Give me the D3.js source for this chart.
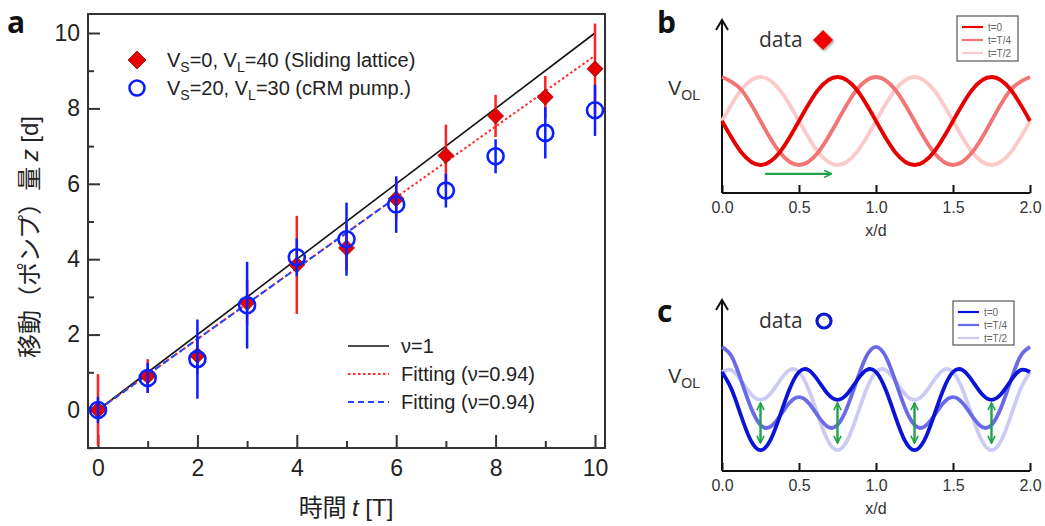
<!DOCTYPE html>
<html>
<head>
<meta charset="utf-8">
<script src="https://cdn.jsdelivr.net/npm/d3@7"></script>
<style>
  body { margin: 0; background: #fff; }
  svg { display: block; font-family: "Liberation Sans", Arial, "Noto Sans CJK JP", sans-serif; }
</style>
</head>
<body>
<svg id="chart" width="1045" height="526"></svg>
<script>
// ---- panel a data ----
const times = [0, 1, 2, 3, 4, 5, 6, 7, 8, 9, 10];
const slideZ   = [0, 0.9, 1.45, 2.85, 3.85, 4.3, 5.6, 6.75, 7.8, 8.3, 9.05];
const slideErr = [0.95, 0.45, 0.5, 0.6, 1.3, 0.6, 0.55, 0.82, 0.56, 0.56, 1.2];
const crmZ     = [0, 0.85, 1.35, 2.78, 4.05, 4.53, 5.45, 5.82, 6.73, 7.35, 7.95];
const crmErr   = [0.35, 0.4, 1.05, 1.15, 0.5, 0.97, 0.75, 0.45, 0.45, 0.68, 0.68];
const xTicksA = [0, 2, 4, 6, 8, 10];
const yTicksA = [0, 2, 4, 6, 8, 10];
// reference lines: [x0, z0], [x1, z1]
const lineNu1   = [[0, 0], [10, 10]];
const lineFitR  = [[0, 0], [10, 9.4]];
const lineFitB  = [[0, 0], [6, 5.64]];

// ---- panel b / c data (potential) ----
const xb = [0, 0.125, 0.25, 0.375, 0.5, 0.625, 0.75, 0.875, 1, 1.125, 1.25, 1.375, 1.5, 1.625, 1.75, 1.875, 2];
const bT0 = [0, -0.71, -1, -0.71, 0, 0.71, 1, 0.71, 0, -0.71, -1, -0.71, 0, 0.71, 1, 0.71, 0];
const bT4 = [1, 0.71, 0, -0.71, -1, -0.71, 0, 0.71, 1, 0.71, 0, -0.71, -1, -0.71, 0, 0.71, 1];
const bT2 = [0, 0.71, 1, 0.71, 0, -0.71, -1, -0.71, 0, 0.71, 1, 0.71, 0, -0.71, -1, -0.71, 0];
const xc = [0, 0.0625, 0.125, 0.1875, 0.25, 0.3125, 0.375, 0.4375, 0.5, 0.5625, 0.625, 0.6875, 0.75, 0.8125, 0.875, 0.9375,
            1, 1.0625, 1.125, 1.1875, 1.25, 1.3125, 1.375, 1.4375, 1.5, 1.5625, 1.625, 1.6875, 1.75, 1.8125, 1.875, 1.9375, 2];
const cT0 = [1.00, 0.34, -0.67, -1.59, -1.95, -1.59, -0.67, 0.34, 1.00, 1.07, 0.67, 0.17, -0.05, 0.17, 0.67, 1.07,
             1.00, 0.34, -0.67, -1.59, -1.95, -1.59, -0.67, 0.34, 1.00, 1.07, 0.67, 0.17, -0.05, 0.17, 0.67, 1.07, 1.00];
const cT4 = [1.95, 1.59, 0.67, -0.34, -1.00, -1.07, -0.67, -0.17, 0.05, -0.17, -0.67, -1.07, -1.00, -0.34, 0.67, 1.59,
             1.95, 1.59, 0.67, -0.34, -1.00, -1.07, -0.67, -0.17, 0.05, -0.17, -0.67, -1.07, -1.00, -0.34, 0.67, 1.59, 1.95];
const cT2 = [1.00, 1.07, 0.67, 0.17, -0.05, 0.17, 0.67, 1.07, 1.00, 0.34, -0.67, -1.59, -1.95, -1.59, -0.67, 0.34,
             1.00, 1.07, 0.67, 0.17, -0.05, 0.17, 0.67, 1.07, 1.00, 0.34, -0.67, -1.59, -1.95, -1.59, -0.67, 0.34, 1.00];
const phaseLabels = ["t=0", "t=T/4", "t=T/2"];
const xTicksBC = [0, 0.5, 1.0, 1.5, 2.0];
const pumpArrowX = [0.25, 0.75, 1.25, 1.75];  // green double arrows in c
const pumpArrowV = [-0.17, -1.68];
const slideArrow = {x0: 0.28, x1: 0.71, v: -1.2};

const svg = d3.select("#chart");
svg.append("rect").attr("width", 1045).attr("height", 526).attr("fill", "#fff");

// ================= panel a =================
const x = d3.scaleLinear().domain([0, 10]).range([98, 595]);
const y = d3.scaleLinear().domain([0, 10]).range([410, 33]);
const [fl, fr, ft, fb] = [88, 605, 14, 448];
const ink = "#333";

const gA = svg.append("g");

// major + minor ticks, pointing inward
gA.append("g").attr("transform", `translate(0,${fb})`)
  .call(d3.axisBottom(x).tickValues(xTicksA).tickSizeInner(-13).tickSizeOuter(0).tickPadding(12));
gA.append("g").attr("transform", `translate(0,${fb})`)
  .call(d3.axisBottom(x).tickValues([1, 3, 5, 7, 9]).tickFormat("").tickSizeInner(-7).tickSizeOuter(0));
gA.append("g").attr("transform", `translate(${fl},0)`)
  .call(d3.axisLeft(y).tickValues(yTicksA).tickSizeInner(-12).tickSizeOuter(0).tickPadding(8));
gA.append("g").attr("transform", `translate(${fl},0)`)
  .call(d3.axisLeft(y).tickValues([-1, 1, 3, 5, 7, 9]).tickFormat("").tickSizeInner(-6).tickSizeOuter(0));
gA.selectAll(".domain").remove();
gA.selectAll(".tick line").attr("stroke", ink).attr("stroke-width", 2);
gA.selectAll(".tick text").attr("fill", "#222").style("font-size", "23px")
  .style("font-family", "'Liberation Sans', Arial, sans-serif");

gA.append("rect").attr("x", fl).attr("y", ft).attr("width", fr - fl).attr("height", fb - ft)
  .attr("fill", "none").attr("stroke", ink).attr("stroke-width", 2);

const lineGen = d3.line().x(d => x(d[0])).y(d => y(d[1]));
gA.append("path").attr("d", lineGen(lineNu1)).attr("stroke", "#111").attr("stroke-width", 1.6).attr("fill", "none");
gA.append("path").attr("d", lineGen(lineFitR)).attr("stroke", "#ff2a2a").attr("stroke-width", 2)
  .attr("stroke-dasharray", "2.5,2.5").attr("fill", "none");
gA.append("path").attr("d", lineGen(lineFitB)).attr("stroke", "#2244ff").attr("stroke-width", 2)
  .attr("stroke-dasharray", "6,4").attr("fill", "none");

const red = "#e60000", redBar = "#ff2020", blue = "#0a1eff";
const diamond = (cx, cy, r) => `M${cx},${cy - r}L${cx + r},${cy}L${cx},${cy + r}L${cx - r},${cy}Z`;

// sliding lattice
gA.append("g").selectAll("line").data(times).join("line")
  .attr("x1", d => x(d)).attr("x2", d => x(d))
  .attr("y1", (d, i) => y(slideZ[i] - slideErr[i])).attr("y2", (d, i) => y(slideZ[i] + slideErr[i]))
  .attr("stroke", redBar).attr("stroke-width", 2.5);
gA.append("g").selectAll("path").data(times).join("path")
  .attr("d", (d, i) => diamond(x(d), y(slideZ[i]), 8))
  .attr("fill", red).attr("stroke", "#8a1010").attr("stroke-width", 0.8);

// cRM pump
gA.append("g").selectAll("line").data(times).join("line")
  .attr("x1", d => x(d)).attr("x2", d => x(d))
  .attr("y1", (d, i) => y(crmZ[i] - crmErr[i])).attr("y2", (d, i) => y(crmZ[i] + crmErr[i]))
  .attr("stroke", blue).attr("stroke-width", 2.5);
gA.append("g").selectAll("circle").data(times).join("circle")
  .attr("cx", d => x(d)).attr("cy", (d, i) => y(crmZ[i])).attr("r", 8)
  .attr("fill", "none").attr("stroke", blue).attr("stroke-width", 2.6);

// legend top
const legA = gA.append("g").style("font-size", "20px").attr("fill", "#222");
legA.append("path").attr("d", diamond(137, 60, 9)).attr("fill", red).attr("stroke", "#8a1010").attr("stroke-width", 0.8);
legA.append("circle").attr("cx", 137).attr("cy", 88).attr("r", 7.5).attr("fill", "none").attr("stroke", blue).attr("stroke-width", 2.6);
function vsvl(yb, vs, vl, tail) {
  const tx = legA.append("text").attr("x", 167).attr("y", yb);
  tx.append("tspan").text("V");
  tx.append("tspan").text("S").style("font-size", "14px").attr("dy", 5);
  tx.append("tspan").text("=" + vs + ", V").attr("dy", -5);
  tx.append("tspan").text("L").style("font-size", "14px").attr("dy", 5);
  tx.append("tspan").text("=" + vl + " " + tail).attr("dy", -5);
}
vsvl(67, 0, 40, "(Sliding lattice)");
vsvl(95, 20, 30, "(cRM pump.)");

// legend bottom
const legB = gA.append("g").style("font-size", "20px").attr("fill", "#222");
const legRows = [
  {y: 346, label: "\u03bd=1", stroke: "#111", dash: null, w: 1.6},
  {y: 374, label: "Fitting (\u03bd=0.94)", stroke: "#ff2a2a", dash: "2.5,2.5", w: 2},
  {y: 402, label: "Fitting (\u03bd=0.94)", stroke: "#2244ff", dash: "6,4", w: 2}
];
legRows.forEach(r => {
  legB.append("line").attr("x1", 348).attr("x2", 389).attr("y1", r.y).attr("y2", r.y)
    .attr("stroke", r.stroke).attr("stroke-width", r.w).attr("stroke-dasharray", r.dash);
  legB.append("text").attr("x", 401).attr("y", r.y + 7).text(r.label);
});

// axis titles
const xt = gA.append("text").attr("x", 346).attr("y", 516).attr("text-anchor", "middle")
  .style("font-size", "24px").attr("fill", "#222");
xt.append("tspan").text("時間 ").style("font-family", "'Noto Sans CJK JP'");
xt.append("tspan").text("t").style("font-style", "italic");
xt.append("tspan").text(" [T]");
const yt = gA.append("text").attr("transform", "translate(38,237) rotate(-90)").attr("text-anchor", "middle")
  .style("font-size", "24px").attr("fill", "#222");
yt.append("tspan").text("移動（ポンプ）量 ").style("font-family", "'Noto Sans CJK JP'");
yt.append("tspan").text("z").style("font-style", "italic");
yt.append("tspan").text(" [d]");

svg.append("text").attr("x", 7).attr("y", 33).text("a")
  .style("font-size", "30px").style("font-weight", "bold").style("font-family", "'Open Sans', sans-serif").attr("fill", "#111");

// ================= panels b, c =================
const xs = d3.scaleLinear().domain([0, 2]).range([722, 1030]);
const green = "#1ea34b";

svg.append("defs").html(`
  <marker id="ah" viewBox="0 0 10 10" refX="9" refY="5" markerWidth="9" markerHeight="9" markerUnits="userSpaceOnUse" orient="auto-start-reverse">
    <path d="M1,1 L9,5 L1,9" fill="none" stroke="${green}" stroke-width="1.8"/>
  </marker>
  <filter id="sh" x="-30%" y="-30%" width="160%" height="160%"><feDropShadow dx="1.5" dy="1.5" stdDeviation="1" flood-color="#000" flood-opacity="0.35"/></filter>`);

function potentialPanel(opt) {
  const g = svg.append("g");
  const yv = d3.scaleLinear().domain(opt.vDomain).range(opt.vRange);
  // axes
  g.append("line").attr("x1", xs(0)).attr("x2", xs(2)).attr("y1", opt.axisY).attr("y2", opt.axisY)
    .attr("stroke", "#111").attr("stroke-width", 2);
  g.append("line").attr("x1", xs(0)).attr("x2", xs(0)).attr("y1", opt.axisY).attr("y2", opt.topY + 1)
    .attr("stroke", "#111").attr("stroke-width", 2);
  g.append("path").attr("d", `M${xs(0) - 6},${opt.topY + 10}L${xs(0)},${opt.topY}L${xs(0) + 6},${opt.topY + 10}`)
    .attr("fill", "none").attr("stroke", "#111").attr("stroke-width", 2);
  const ax = g.append("g").attr("transform", `translate(0,${opt.axisY})`)
    .call(d3.axisBottom(xs).tickValues(xTicksBC).tickFormat(d3.format(".1f")).tickSizeInner(-8).tickSizeOuter(0).tickPadding(9));
  ax.select(".domain").remove();
  ax.selectAll(".tick line").attr("stroke", "#111").attr("stroke-width", 2);
  ax.selectAll(".tick text").attr("fill", "#333").style("font-size", "16px");
  g.append("text").attr("x", xs(1)).attr("y", opt.axisY + 43).attr("text-anchor", "middle")
    .style("font-size", "16px").attr("fill", "#333").text("x/d");

  // curves, lightest first
  const curve = d3.line().x((d, i) => xs(opt.xv[i])).y(d => yv(d)).curve(d3.curveNatural);
  [2, 1, 0].forEach(k => {
    g.append("path").attr("d", curve(opt.series[k])).attr("fill", "none")
      .attr("stroke", opt.colors[k]).attr("stroke-width", 3.8).attr("stroke-linejoin", "round");
  });

  // V_OL
  const vt = g.append("text").attr("x", 668).attr("y", opt.vlabelY).attr("fill", "#333").style("font-size", "20px");
  vt.append("tspan").text("V");
  vt.append("tspan").text("OL").style("font-size", "14px").attr("dy", 5);

  // "data" marker
  g.append("text").attr("x", 759).attr("y", opt.dataY).attr("fill", "#333")
    .style("font-size", "21px").style("font-family", "'Open Sans', sans-serif").text("data");
  opt.marker(g);

  // phase legend
  const lg = g.append("g");
  lg.append("rect").attr("x", opt.box[0]).attr("y", opt.box[1]).attr("width", opt.box[2]).attr("height", opt.box[3])
    .attr("fill", "#fff").attr("stroke", "#555").attr("stroke-width", 1.2);
  phaseLabels.forEach((lab, k) => {
    const yy = opt.box[1] + 11 + k * 13;
    lg.append("line").attr("x1", opt.box[0] + 5).attr("x2", opt.box[0] + 26).attr("y1", yy).attr("y2", yy)
      .attr("stroke", opt.colors[k]).attr("stroke-width", 2.2);
    lg.append("text").attr("x", opt.box[0] + 31).attr("y", yy + 3.5).attr("fill", "#666")
      .style("font-size", "10px").text(lab);
  });

  // panel letter
  svg.append("text").attr("x", 657).attr("y", opt.letterY).text(opt.letter)
    .style("font-size", "30px").style("font-weight", "bold").style("font-family", "'Open Sans', sans-serif").attr("fill", "#111");
  return {g, yv};
}

// panel b
const pb = potentialPanel({
  letter: "b", letterY: 33, topY: 20, axisY: 193, vDomain: [-1, 1], vRange: [165, 77],
  xv: xb, series: [bT0, bT4, bT2], colors: ["#e60000", "#f27474", "#fbcaca"],
  vlabelY: 95, dataY: 47, box: [957, 16, 61, 45],
  marker: g => g.append("path").attr("d", diamond(823, 40, 10)).attr("fill", "#f00000").attr("filter", "url(#sh)")
});
pb.g.append("line").attr("x1", xs(slideArrow.x0)).attr("x2", xs(slideArrow.x1))
  .attr("y1", pb.yv(slideArrow.v)).attr("y2", pb.yv(slideArrow.v))
  .attr("stroke", green).attr("stroke-width", 2.2).attr("marker-end", "url(#ah)");

// panel c
const pc = potentialPanel({
  letter: "c", letterY: 322, topY: 300, axisY: 471, vDomain: [-2, 2], vRange: [451.5, 345.5],
  xv: xc, series: [cT0, cT4, cT2], colors: ["#0a14d6", "#6a6ae8", "#cbcbf6"],
  vlabelY: 383, dataY: 328, box: [953, 301, 61, 44],
  marker: g => g.append("circle").attr("cx", 824).attr("cy", 321).attr("r", 7).attr("fill", "none")
    .attr("stroke", "#0a14d6").attr("stroke-width", 3.2)
});
pc.g.append("g").selectAll("line").data(pumpArrowX).join("line")
  .attr("x1", d => xs(d)).attr("x2", d => xs(d))
  .attr("y1", pc.yv(pumpArrowV[0])).attr("y2", pc.yv(pumpArrowV[1]))
  .attr("stroke", green).attr("stroke-width", 2.4)
  .attr("marker-start", "url(#ah)").attr("marker-end", "url(#ah)");
</script>
</body>
</html>
